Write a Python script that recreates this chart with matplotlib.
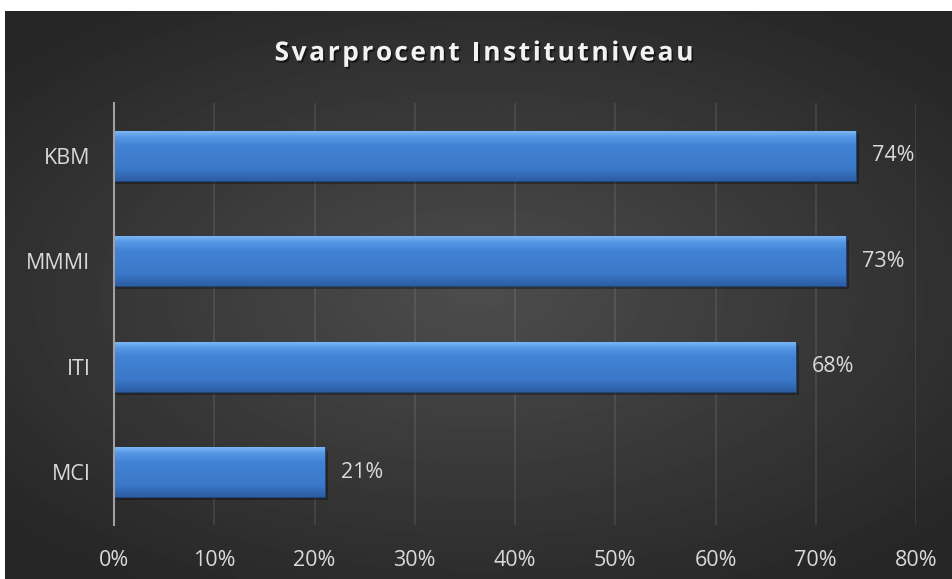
import numpy as np
import matplotlib.pyplot as plt
import matplotlib.patheffects as pe
from matplotlib.colors import LinearSegmentedColormap
from matplotlib.ticker import PercentFormatter

# data (bottom to top as drawn)
institutes = ['MCI', 'ITI', 'MMMI', 'KBM']
response_rate = [0.21, 0.68, 0.73, 0.74]
x_ticks = [0, 0.1, 0.2, 0.3, 0.4, 0.5, 0.6, 0.7, 0.8]
title_text = 'Svarprocent Institutniveau'

plt.rcParams['font.family'] = ['Open Sans', 'DejaVu Sans']

fig = plt.figure(figsize=(9.52, 5.79), dpi=100, facecolor='white')

# dark radial background panel
bg = fig.add_axes([5 / 952, 0, 947 / 952, 568 / 579])
yy, xx = np.mgrid[-1:1:300j, -1:1:500j]
r = np.sqrt(xx ** 2 + (yy / 0.9) ** 2)
shade = 0.30 - 0.15 * np.clip(r / 1.35, 0, 1)
bg.imshow(shade, cmap='gray', vmin=0, vmax=1, aspect='auto', extent=[0, 1, 0, 1])
bg.set_axis_off()

ax = fig.add_axes([114 / 952, (579 - 525) / 579, (916 - 114) / 952, (525 - 103) / 579])
ax.patch.set_alpha(0)

bar_h = 0.47
bars = ax.barh(institutes, response_rate, height=bar_h, color='#3c78c8',
               edgecolor='#1f4678', linewidth=0.8, zorder=3)

# vertical gradient + soft shadow for each bar
grad = np.linspace(0, 1, 100).reshape(-1, 1)
blue = LinearSegmentedColormap.from_list(
    'bevel', [(0, '#7ab6f5'), (0.12, '#5596e4'), (0.3, '#4282d4'),
              (0.75, '#3b78c9'), (1, '#2c5ea4')])
for b, v in zip(bars, response_rate):
    y0 = b.get_y()
    ax.barh(y0 + bar_h / 2 - 0.03, v + 0.003, height=bar_h, color='black',
            alpha=0.3, linewidth=0, zorder=2)
    im = ax.imshow(grad, cmap=blue, aspect='auto', zorder=3.5, origin='upper',
                   extent=[0, v, y0, y0 + bar_h])
    im.set_clip_path(b)
    ax.text(v + 0.016, y0 + bar_h / 2, f'{v:.0%}', va='center', ha='left',
            color='#d9d9d9', fontsize=15.5, zorder=5)

ax.set_xlim(0, 0.8)
ax.set_ylim(-0.5, 3.5)
ax.set_xticks(x_ticks)
ax.xaxis.set_major_formatter(PercentFormatter(1.0, decimals=0))
ax.grid(axis='x', color='white', alpha=0.1, linewidth=1.2, zorder=1)
ax.set_axisbelow(True)
ax.tick_params(axis='both', length=0, colors='#d9d9d9', labelsize=15.5)
ax.tick_params(axis='x', pad=18)
ax.tick_params(axis='y', pad=17)
for s in ['top', 'right', 'bottom']:
    ax.spines[s].set_visible(False)
ax.spines['left'].set_color('#a0a0a0')
ax.spines['left'].set_linewidth(1.5)
ax.spines['left'].set_zorder(4)

# title with letter spacing, placed char by char
renderer = fig.canvas.get_renderer()
fs = 19
spacing = 2.6  # extra px between letters
probe = fig.text(0, 0, '', fontsize=fs, fontweight='bold')
offsets = []
for i in range(len(title_text) + 1):
    probe.set_text(title_text[:i] if i else '')
    w = probe.get_window_extent(renderer).width if i else 0
    offsets.append(w + i * spacing)
probe.remove()
total = offsets[-1] - spacing
x_start = 484 - total / 2
y_title = 1 - 53 / 579
shadow = [pe.withSimplePatchShadow(offset=(1.2, -1.5), shadow_rgbFace='black',
                                   alpha=0.55)]
for i, ch in enumerate(title_text):
    if ch == ' ':
        continue
    fig.text((x_start + offsets[i]) / 952, y_title, ch, ha='left', va='center',
             color='#f2f2f2', fontsize=fs, fontweight='bold', path_effects=shadow)

fig.savefig('out.png', dpi=100, facecolor='white')
